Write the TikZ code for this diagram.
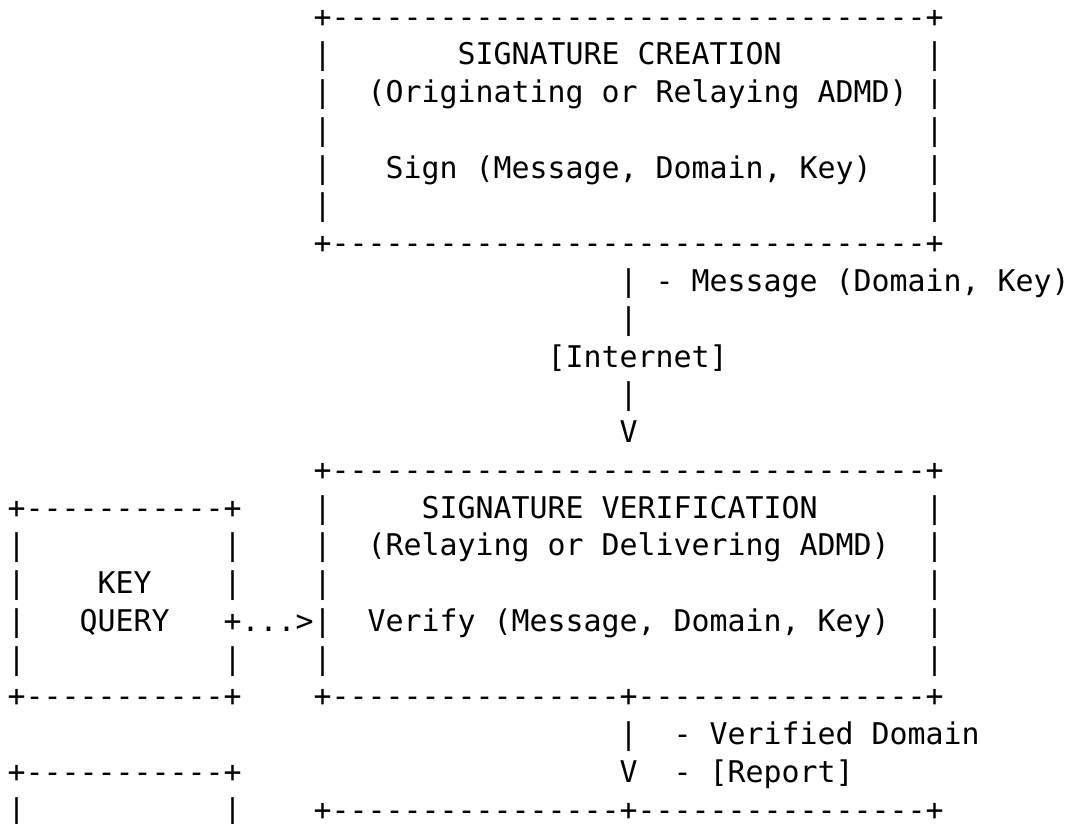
\documentclass[tikz,border=0pt]{standalone}
\usepackage{fontspec}
\setmonofont{DejaVu Sans Mono}
\frenchspacing
% One character cell: 9pt wide, one text row: 18.875pt high.
\tikzset{
  ascii/.style={anchor=base west, inner sep=0pt, outer sep=0pt,
    font=\ttfamily\fontsize{14.95pt}{18pt}\selectfont, text=black}
}
% \cell{name}{column}{row}{text}
\newcommand\cell[4]{\node[ascii] (#1) at ({#2+0.428},{#3+0.722}) {#4};}
\begin{document}
\begin{tikzpicture}[x=9pt, y=-18.875pt]
\useasboundingbox (0,0) rectangle (59.556,21.828);
\fill[white] (0,0) rectangle (59.556,21.828);

% signature creation box
\cell{crTop}{17}{0}{+---------------------------------+}
\cell{crL1}{17}{1}{|}\cell{crTitle}{25}{1}{SIGNATURE CREATION}\cell{crR1}{51}{1}{|}
\cell{crL2}{17}{2}{|}\cell{crSub}{20}{2}{(Originating or Relaying ADMD)}\cell{crR2}{51}{2}{|}
\cell{crL3}{17}{3}{|}\cell{crR3}{51}{3}{|}
\cell{crL4}{17}{4}{|}\cell{crSign}{21}{4}{Sign (Message, Domain, Key)}\cell{crR4}{51}{4}{|}
\cell{crL5}{17}{5}{|}\cell{crR5}{51}{5}{|}
\cell{crBot}{17}{6}{+---------------------------------+}

% path through the Internet
\cell{msg}{34}{7}{| - Message (Domain, Key)}
\cell{pipeA}{34}{8}{|}
\cell{inet}{30}{9}{[Internet]}
\cell{pipeB}{34}{10}{|}
\cell{arrowA}{34}{11}{V}

% signature verification box and key query box
\cell{vfTop}{17}{12}{+---------------------------------+}
\cell{kqTop}{0}{13}{+-----------+}
\cell{vfL1}{17}{13}{|}\cell{vfTitle}{23}{13}{SIGNATURE VERIFICATION}\cell{vfR1}{51}{13}{|}
\cell{kqL1}{0}{14}{|}\cell{kqR1}{12}{14}{|}
\cell{vfL2}{17}{14}{|}\cell{vfSub}{20}{14}{(Relaying or Delivering ADMD)}\cell{vfR2}{51}{14}{|}
\cell{kqL2}{0}{15}{|}\cell{kqKey}{5}{15}{KEY}\cell{kqR2}{12}{15}{|}
\cell{vfL3}{17}{15}{|}\cell{vfR3}{51}{15}{|}
\cell{kqL3}{0}{16}{|}\cell{kqQuery}{4}{16}{QUERY}
\cell{kqLink}{12}{16}{+...>|}
\cell{vfVerify}{20}{16}{Verify (Message, Domain, Key)}\cell{vfR4}{51}{16}{|}
\cell{kqL4}{0}{17}{|}\cell{kqR4}{12}{17}{|}
\cell{vfL5}{17}{17}{|}\cell{vfR5}{51}{17}{|}
\cell{kqBot}{0}{18}{+-----------+}
\cell{vfBot}{17}{18}{+----------------+----------------+}

% results and the next boxes
\cell{pipeC}{34}{19}{|}\cell{verified}{37}{19}{- Verified Domain}
\cell{nxTop}{0}{20}{+-----------+}
\cell{arrowB}{34}{20}{V}\cell{report}{37}{20}{- [Report]}
\cell{nxL1}{0}{21}{|}\cell{nxR1}{12}{21}{|}
\cell{asTop}{17}{21}{+----------------+----------------+}
\end{tikzpicture}
\end{document}
